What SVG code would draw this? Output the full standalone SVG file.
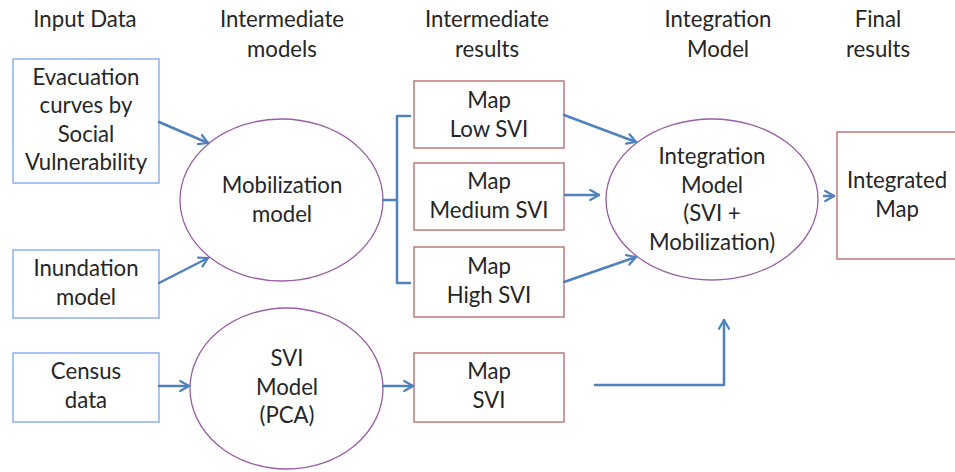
<svg xmlns="http://www.w3.org/2000/svg" width="955" height="472" viewBox="0 0 955 472">
<style>
text{font-family:Lato,"Open Sans",sans-serif;font-size:22.2px;fill:#262626;text-anchor:middle}
.in{fill:#fff;stroke:#8eaef2;stroke-width:1.5}
.res{fill:#fff;stroke:#c27a7a;stroke-width:1.5}
.mod{fill:#fff;stroke:#9a5ea6;stroke-width:1.3}
.c{fill:none;stroke:#4f81bd;stroke-width:2.5;stroke-linecap:round;stroke-linejoin:round}
</style>
<defs>
<marker id="ah" viewBox="0 0 10 10" refX="8" refY="5" markerWidth="5" markerHeight="5" orient="auto" markerUnits="strokeWidth">
<path d="M1,1 L8,5 L1,9" fill="none" stroke="#4f81bd" stroke-width="1.8" stroke-linecap="round" stroke-linejoin="round"/>
</marker>
</defs>
<rect width="955" height="472" fill="#fff"/>
<g id="headers">
<text x="85" y="27">Input Data</text>
<text x="282" y="27">Intermediate</text><text x="282" y="57">models</text>
<text x="487" y="27">Intermediate</text><text x="487" y="57">results</text>
<text x="718" y="27">Integration</text><text x="718" y="57">Model</text>
<text x="878" y="27">Final</text><text x="878" y="57">results</text>
</g>
<g id="evacuation"><rect class="in" x="13" y="59" width="146" height="124"/>
<text x="86" y="85">Evacuation</text><text x="86" y="113">curves by</text><text x="86" y="142">Social</text><text x="86" y="170">Vulnerability</text></g>
<g id="inundation"><rect class="in" x="13" y="250" width="146" height="68"/>
<text x="86" y="276">Inundation</text><text x="86" y="305">model</text></g>
<g id="census"><rect class="in" x="13" y="353" width="146" height="69"/>
<text x="86" y="379">Census</text><text x="86" y="408">data</text></g>
<g id="mobilization"><ellipse class="mod" cx="281.5" cy="200" rx="101.5" ry="81"/>
<text x="282" y="193">Mobilization</text><text x="282" y="222">model</text></g>
<g id="svimodel"><ellipse class="mod" cx="286.5" cy="388.5" rx="96.5" ry="80.5"/>
<text x="287" y="366">SVI</text><text x="287" y="395">Model</text><text x="287" y="423">(PCA)</text></g>
<g id="maplow"><rect class="res" x="414" y="81" width="150" height="67"/>
<text x="489" y="108">Map</text><text x="489" y="137">Low SVI</text></g>
<g id="mapmed"><rect class="res" x="414" y="163" width="150" height="67"/>
<text x="489" y="189">Map</text><text x="489" y="218">Medium SVI</text></g>
<g id="maphigh"><rect class="res" x="414" y="247" width="150" height="70"/>
<text x="489" y="274">Map</text><text x="489" y="303">High SVI</text></g>
<g id="mapsvi"><rect class="res" x="414" y="353" width="150" height="69"/>
<text x="489" y="379">Map</text><text x="489" y="408">SVI</text></g>
<g id="integration"><ellipse class="mod" cx="712" cy="199.5" rx="106" ry="80.5"/>
<text x="712" y="164">Integration</text><text x="712" y="193">Model</text><text x="712" y="221">(SVI +</text><text x="712" y="250">Mobilization)</text></g>
<g id="integrated"><rect class="res" x="837" y="132" width="130" height="127"/>
<text x="897" y="188">Integrated</text><text x="897" y="217">Map</text></g>
<g id="connectors">
<path class="c" d="M410,116 H397 V283 H410 M383,200 H397"/>
<path class="c" marker-end="url(#ah)" d="M159,122 L208,143"/>
<path class="c" marker-end="url(#ah)" d="M159,283 L208,258"/>
<path class="c" marker-end="url(#ah)" d="M159,386 L189,386"/>
<path class="c" marker-end="url(#ah)" d="M383,386 L413,386"/>
<path class="c" marker-end="url(#ah)" d="M564,115 L636,142"/>
<path class="c" marker-end="url(#ah)" d="M565,195 L599,195"/>
<path class="c" marker-end="url(#ah)" d="M564,282 L636,257"/>
<path class="c" marker-end="url(#ah)" d="M595,385 H724 V320"/>
<path class="c" marker-end="url(#ah)" d="M824,196 L834,196"/>
</g>
</svg>
